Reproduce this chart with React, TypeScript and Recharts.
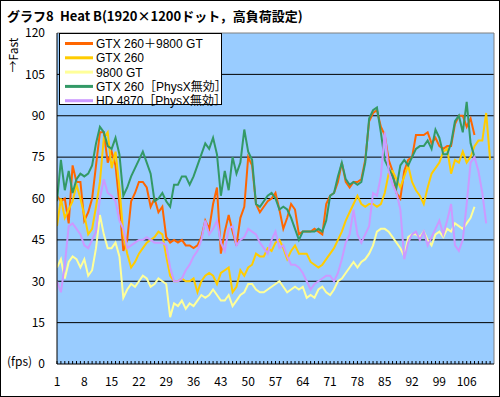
import React from 'react';
import { LineChart, Line, XAxis, YAxis, CartesianGrid, ReferenceLine } from 'recharts';

const FONT = '"Noto Sans CJK JP", "Noto Sans", sans-serif';
const LEGEND_FONT = '"Liberation Sans", "Noto Sans CJK JP", sans-serif';

// category numbers 1..112 (frame index)
const categories: number[] = Array.from({ length: 112 }, (_, k) => k + 1);
const xLabelTicks = [1, 8, 15, 22, 29, 36, 43, 50, 57, 64, 71, 78, 85, 92, 99, 106];
const yTicks = [0, 15, 30, 45, 60, 75, 90, 105, 120];
const gridValues = [15, 30, 45, 60, 75, 90, 105];

const seriesNames = [
  'GTX 260＋9800 GT',
  'GTX 260',
  '9800 GT',
  'GTX 260［PhysX無効］',
  'HD 4870［PhysX無効］',
];
const seriesColors = ['#FF6600', '#FFCC00', '#FFFF99', '#339966', '#CC99FF'];

const gtx260Plus9800: (number | null)[] = [
  61, 59, 60, 51, 72, 66, 66, 52, 55, 60,
  72, 84, 84, 73, 77, 72, 58, 41, 45, 59,
  62, 66, 66, 64, 57, 60, 55, 57, 46, 44,
  45, 44, 45, 43, 43, 42, 43, 46, 52, 49,
  58, 64, 40, 48, 54, 48, 43, 53, 57, 75,
  72, 58, 55, 57, 59, 60, 62, 56, 49, 53,
  58, 56, 47, 48, 48, 48, 49, 48, 47, 58,
  61, 62, 66, 73, 66, 64, 66, 66, 67, 74,
  88, 91, 92, 86, 83, 74, 70, 62, 60, 70,
  74, 75, 83, 83, 83, 84, 80, 82, 79, 78,
  79, 79, 87, 90, 90, 86, 89, 83, null, null,
  null, null,
];

const gtx260: (number | null)[] = [
  50, 60, 53, 56, 59, 65, 60, 54, 47, 49,
  57, 66, 82, 84, 71, 77, 64, 47, 40, 35,
  37, 40, 42, 44, 45, 46, 48, 47, 39, 32,
  30, 30, 31, 30, 30, 31, 26, 30, 32, 33,
  32, 29, 33, 34, 35, 26, 28, 34, 32, 35,
  36, 40, 39, 39, 42, 41, 44, 45, 42, 38,
  41, 43, 40, 40, 40, 37, 36, 35, 36, 38,
  40, 42, 45, 48, 52, 55, 58, 61, 58, 57,
  58, 58, 57, 58, 62, 69, 70, 67, 64, 68,
  72, 66, 63, 61, 58, 64, 69, 71, 73, 77,
  78, 69, 74, 73, 77, 73, 75, 79, 81, 81,
  91, 74,
];

const gt9800: (number | null)[] = [
  35, 38, 31, 37, 39, 38, 35, 38, 32, 34,
  42, 54, 47, 42, 42, 44, 39, 24, 27, 29,
  28, 30, 32, 31, 28, 29, 31, 30, 29, 17,
  22, 21, 23, 20, 22, 21, 23, 25, 24, 25,
  27, 25, 23, 23, 25, 21, 23, 25, 26, 29,
  29, 27, 26, 26, 27, 28, 29, 30, 28, 26,
  27, 28, 27, 28, 24, 25, 24, 27, 28, 26,
  25, 27, 30, 31, 33, 35, 37, 35, 37, 38,
  40, 43, 48, 49, 49, 48, 46, 44, 42, 39,
  46, 47, 47, 46, 48, 45, 43, 47, 48, 46,
  49, 48, 51, 50, 49, 51, 53, 57, null, null,
  null, null,
];

const gtx260NoPhysX: (number | null)[] = [
  59, 74, 63, 70, 62, 67, 69, 68, 69, 72,
  80, 86, 84, 79, 78, 82, 76, 61, 64, 68,
  71, 74, 77, 73, 69, 59, 60, 62, 59, 57,
  65, 65, 68, 68, 65, 68, 72, 76, 80, 78,
  82, 76, 61, 70, 63, 75, 69, 73, 85, 77,
  74, 58, 57, 59, 61, 62, 60, 56, 57, 56,
  53, 49, 45, 48, 48, 48, 48, 49, 48, 52,
  61, 62, 68, 73, 67, 65, 66, 65, 66, 73,
  89, 92, 93, 84, 74, 71, 68, 64, 72, 74,
  72, 75, 78, 79, 79, 81, 78, 85, 82, 76,
  76, 80, 88, 90, 84, 95, 80, 75, null, null,
  null, null,
];

const hd4870NoPhysX: (number | null)[] = [
  30, 26, 36, 50, 51, 49, 47, 43, 42, 45,
  48, 60, 67, 62, 61, 59, 52, 49, 42, 43,
  44, 45, 45, 46, 45, 44, 44, 44, 43, 35,
  30, 30, 31, 34, 36, 39, 41, 45, 52, 47,
  49, 52, 44, 41, 49, 50, 43, 45, 46, 49,
  48, 47, 44, 42, 40, 45, 48, 42, 43, 39,
  36, 36, 35, 33, 30, 27, 29, 30, 31, 32,
  32, 30, 33, 38, 44, 47, 56, 47, 44, 47,
  50, 62, 61, 68, 84, 70, 65, 62, 56, 38,
  44, 47, 48, 45, 48, 43, 46, 49, 52, 47,
  52, 58, 43, 41, 45, 58, 73, 75, 70, 62,
  51, null,
];

const seriesValues = [gtx260Plus9800, gtx260, gt9800, gtx260NoPhysX, hd4870NoPhysX];
const seriesKeys = ['s0', 's1', 's2', 's3', 's4'];

const data = categories.map((c, k) => {
  const row: Record<string, number | null> = { idx: c };
  seriesKeys.forEach((key, s) => {
    row[key] = seriesValues[s][k] ?? null;
  });
  return row;
});

const XTick = (props: any) => {
  const { x, y, payload } = props;
  const show = xLabelTicks.includes(payload.value);
  return (
    <g>
      <line x1={x} y1={y} x2={x} y2={y - 3} stroke="#000" strokeWidth={1} />
      {show && (
        <text x={x} y={y + 22} textAnchor="middle" fontSize={12} fontFamily={FONT} fill="#000">
          {payload.value}
        </text>
      )}
    </g>
  );
};

const LegendBox = () => (
  <svg
    width={170}
    height={72}
    style={{ position: 'absolute', left: 59, top: 33, zIndex: 10, display: 'block', overflow: 'visible' }}
  >
    <rect x={0.5} y={0.5} width={162} height={71} fill="#ffffff" stroke="#000000" strokeWidth={1} />
    {seriesNames.map((name, k) => {
      const cy = 10.5 + k * 14.3;
      return (
        <g key={name}>
          <line x1={6} x2={34} y1={cy} y2={cy} stroke={seriesColors[k]} strokeWidth={3} />
          <text x={37} y={cy + 4.5} fontSize={12} fontFamily={LEGEND_FONT} fill="#000">
            {name}
          </text>
        </g>
      );
    })}
  </svg>
);

export default function App() {
  return (
    <div style={{ position: 'absolute', left: 0, top: 0, width: 500, height: 397, background: '#fff', fontFamily: FONT, color: '#000' }}>
      <div style={{ position: 'absolute', left: 0, top: 0, zIndex: 1 }}>
        <LineChart width={500} height={397} data={data} margin={{ top: 33, right: 6, bottom: 3, left: 0 }}>
          <CartesianGrid
            horizontalValues={gridValues}
            vertical={false}
            stroke="#000"
            fill="#99CCFF"
            fillOpacity={1}
          />
          <XAxis
            dataKey="idx"
            type="number"
            domain={[1, 113]}
            ticks={categories}
            interval={0}
            tick={<XTick />}
            tickLine={false}
            tickSize={0}
            tickMargin={0}
            height={30}
            axisLine={{ stroke: '#000' }}
            allowDataOverflow
          />
          <YAxis
            type="number"
            domain={[0, 120]}
            ticks={yTicks}
            interval={0}
            width={57}
            tickLine={false}
            tickMargin={6}
            axisLine={{ stroke: '#000' }}
            tick={{ fontSize: 12, fill: '#000', fontFamily: FONT }}
          />
          <ReferenceLine y={120} stroke="#808080" />
          <ReferenceLine x={113} stroke="#808080" />
          {seriesKeys.map((key, s) => (
            <Line
              key={key}
              dataKey={key}
              name={seriesNames[s]}
              stroke={seriesColors[s]}
              strokeWidth={2}
              dot={false}
              type="linear"
              isAnimationActive={false}
              connectNulls={false}
            />
          ))}
        </LineChart>
      </div>

      {/* title */}
      <div style={{ position: 'absolute', zIndex: 5, left: 7, top: 8, fontSize: 13, fontWeight: 'bold', lineHeight: '16px', whiteSpace: 'nowrap' }}>グラフ8</div>
      <div style={{ position: 'absolute', zIndex: 5, left: 60, top: 8, fontSize: 13, fontWeight: 'bold', lineHeight: '16px', whiteSpace: 'nowrap' }}>Heat B(1920×1200ドット，高負荷設定)</div>

      {/* y axis title */}
      <div style={{ position: 'absolute', zIndex: 5, left: 13, top: 55, transform: 'translate(-50%, -50%) rotate(-90deg)', fontSize: 12, lineHeight: '14px', whiteSpace: 'nowrap' }}>→Fast</div>
      <div style={{ position: 'absolute', zIndex: 5, left: 7, top: 354, fontSize: 12, lineHeight: '14px', whiteSpace: 'nowrap' }}>(fps)</div>

      {/* legend */}
      <LegendBox />

      {/* outer frame */}
      <div style={{ position: 'absolute', zIndex: 20, left: 0, top: 0, width: 500, height: 397, border: '1px solid #000', boxSizing: 'border-box', pointerEvents: 'none' }} />
    </div>
  );
}
